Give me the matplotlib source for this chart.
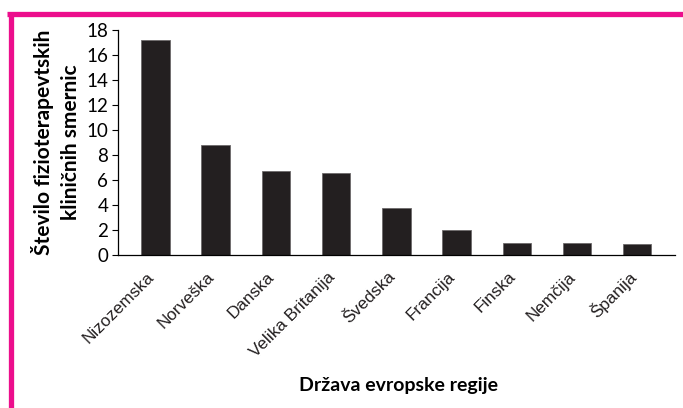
import matplotlib.pyplot as plt
from matplotlib.lines import Line2D
import matplotlib.transforms as mtransforms
import numpy as np

# Data
countries = ['Nizozemska', 'Norveška', 'Danska', 'Velika Britanija', 'Švedska',
             'Francija', 'Finska', 'Nemčija', 'Španija']
values = [17.2, 8.8, 6.7, 6.6, 3.8, 2.0, 1.0, 1.0, 0.9]
yticks = [0, 2, 4, 6, 8, 10, 12, 14, 16, 18]

fig = plt.figure(figsize=(6.83, 4.08), dpi=100)
ax = fig.add_axes([0.1728, 0.375, 0.815, 0.551])

x = np.arange(len(countries))
ax.bar(x, values, width=0.47, color='#231f20', edgecolor='#6d6a6b', linewidth=0.6)

ax.set_xlim(-0.62, len(countries) - 0.38)
ax.set_ylim(0, 18)
ax.set_yticks(yticks)
ax.set_yticklabels([str(t) for t in yticks], fontfamily='Lato', fontsize=13.5)
ax.tick_params(axis='y', direction='out', length=4, width=0.8, pad=3)
ax.set_xticks(x)
ax.set_xticklabels(countries, rotation=45, ha='right', va='center',
                   rotation_mode='anchor', fontfamily='Liberation Sans',
                   fontsize=12.3, color='#231f20')
ax.tick_params(axis='x', length=0, pad=14)
# nudge the rotated labels slightly left, as in the original
shift = mtransforms.ScaledTranslation(-4 / 100, 0, fig.dpi_scale_trans)
for lab in ax.get_xticklabels():
    lab.set_transform(lab.get_transform() + shift)

for side in ['top', 'right']:
    ax.spines[side].set_visible(False)
ax.spines['left'].set_linewidth(0.9)
ax.spines['bottom'].set_linewidth(0.9)

ax.set_ylabel('Število fizioterapevtskih\nkliničnih smernic', fontfamily='Lato',
              fontweight='bold', fontsize=15, linespacing=1.4, labelpad=4)
fig.text(0.583, 0.056, 'Država evropske regije', ha='center', va='center',
         fontfamily='Lato', fontweight='bold', fontsize=14)

# pink frame lines (top and left)
pink = '#ec0e8c'
fig.add_artist(Line2D([0.0102, 1.0], [0.9645, 0.9645], color=pink, linewidth=3.8,
                      transform=fig.transFigure, solid_capstyle='butt'))
fig.add_artist(Line2D([0.0154, 0.0154], [0.0, 0.969], color=pink, linewidth=3.8,
                      transform=fig.transFigure, solid_capstyle='butt'))

plt.savefig('out.png', dpi=100)
